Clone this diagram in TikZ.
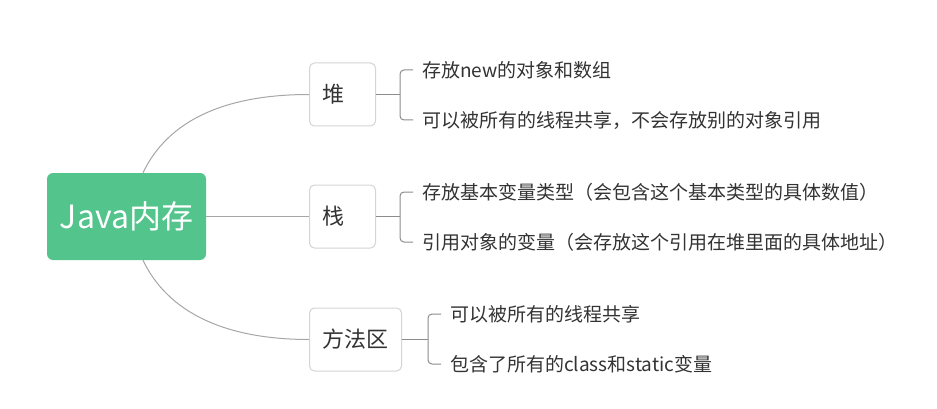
\documentclass[tikz,border=0pt]{standalone}
\usepackage{fontspec}
\setmainfont{Noto Sans CJK SC}
\definecolor{rootgreen}{HTML}{52C48C}
\definecolor{linegray}{HTML}{A6A6A6}
\definecolor{stubgray}{HTML}{8C8C8C}
\definecolor{boxgray}{HTML}{D4D4D4}
\definecolor{textgray}{HTML}{333333}
\tikzset{
  rootbox/.style={fill=rootgreen, rounded corners=6pt, text=white, minimum width=159pt, minimum height=87pt, font=\fontsize{32}{36}\selectfont},
  branchbox/.style={draw=boxgray, line width=1pt, fill=white, rounded corners=5pt, anchor=west, minimum height=63pt, inner xsep=13pt, align=left, text=textgray, font=\fontsize{22}{26}\selectfont},
  leaf/.style={anchor=west, inner sep=0pt, text=textgray, font=\fontsize{19}{23}\selectfont},
  link/.style={draw=linegray, line width=1pt},
  stub/.style={draw=stubgray, line width=1pt},
}
\begin{document}
\begin{tikzpicture}[x=1pt,y=-1pt]
    \useasboundingbox (0,0) rectangle (937,409);
    \node[rootbox] (mem) at (126.5,216.5) {Java内存};
    \node[branchbox, text width=40pt] (dui) at (309,94.5) {堆};
    \node[branchbox, text width=40pt] (zhan) at (309,216.5) {栈};
    \node[branchbox, text width=66pt] (ffq) at (309,339.5) {方法区};
    % root to branches
    \draw[link] ([xshift=16.5pt]mem.north) .. controls (172,112) and (240,94.5) .. (dui.west);
    \draw[link] (mem.east) -- (zhan.west);
    \draw[link] ([xshift=16.5pt]mem.south) .. controls (172,321) and (240,339.5) .. (ffq.west);
    % leaves
    \node[leaf] (dui-1) at (422,70) {存放new的对象和数组};
    \node[leaf] (dui-2) at (422,120) {可以被所有的线程共享，不会存放别的对象引用};
    \node[leaf] (zhan-1) at (422,192) {存放基本变量类型（会包含这个基本类型的具体数值）};
    \node[leaf] (zhan-2) at (422,242) {引用对象的变量（会存放这个引用在堆里面的具体地址）};
    \node[leaf] (ffq-1) at (450,314) {可以被所有的线程共享};
    \node[leaf] (ffq-2) at (450,364) {包含了所有的class和static变量};
    % brackets
    \coordinate (dui-b) at (400,94.5);
    \coordinate (zhan-b) at (400,216.5);
    \coordinate (ffq-b) at (428,339.5);
    \draw[stub] (dui.east) -- (dui-b);
    \draw[stub, rounded corners=4pt] ([xshift=-9pt]dui-1.west) -| (dui-b) |- ([xshift=-9pt]dui-2.west);
    \draw[stub] (zhan.east) -- (zhan-b);
    \draw[stub, rounded corners=4pt] ([xshift=-9pt]zhan-1.west) -| (zhan-b) |- ([xshift=-9pt]zhan-2.west);
    \draw[stub] (ffq.east) -- (ffq-b);
    \draw[stub, rounded corners=4pt] ([xshift=-9pt]ffq-1.west) -| (ffq-b) |- ([xshift=-9pt]ffq-2.west);
\end{tikzpicture}
\end{document}
